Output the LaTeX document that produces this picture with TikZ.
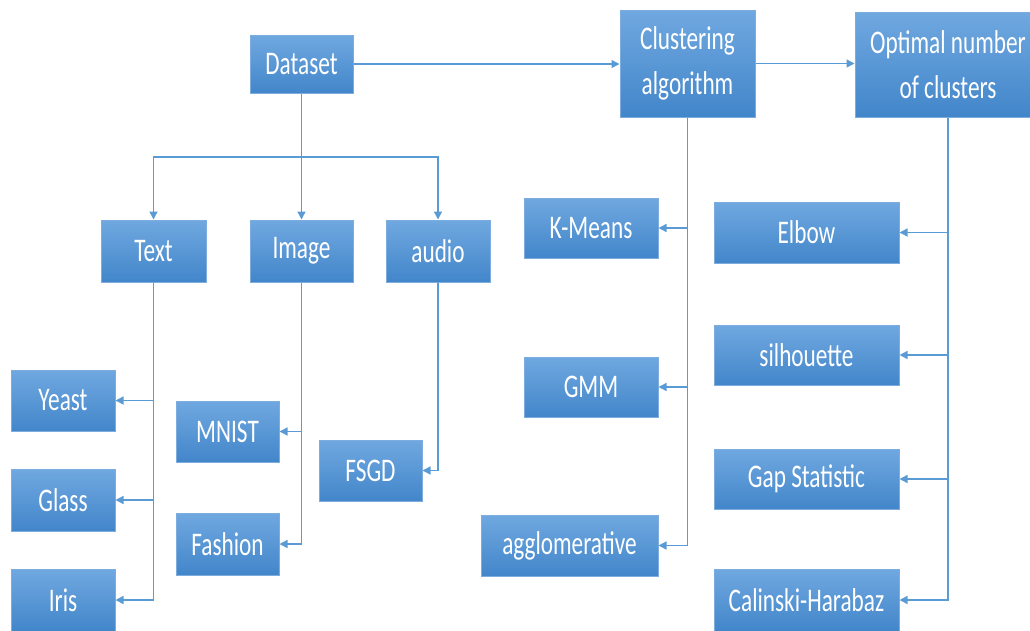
\documentclass[tikz,border=0pt]{standalone}
\usepackage{fontspec}
\setmainfont{Carlito}[FakeStretch=0.705]
\usetikzlibrary{arrows.meta}
\definecolor{boxtop}{RGB}{112,168,224}
\definecolor{boxbot}{RGB}{66,134,202}
\definecolor{boxedge}{RGB}{125,172,222}
\definecolor{linecol}{RGB}{91,155,213}
\tikzset{
  box/.style={rectangle, draw=boxedge, line width=1pt, top color=boxtop, bottom color=boxbot,
    text=white, inner sep=0pt, align=center, font=\fontsize{33}{45}\selectfont},
  arr/.style={draw=linecol, line width=1.4pt, -{Triangle[width=8pt,length=8pt]}},
  ln/.style={draw=linecol, line width=1.4pt}
}
\newcommand{\bx}[6]{\node[box, minimum width=#4, minimum height=#5] (#1) at (#2,#3) {#6};}
\begin{document}
\begin{tikzpicture}[x=1pt,y=-1pt]
\useasboundingbox (0,0) rectangle (1030,630);
\bx{ds}{301.5}{64}{103}{58}{Dataset}
\bx{ca}{687.5}{63.5}{135}{107}{Clustering\\algorithm}
\bx{on}{948}{64.5}{186}{105}{Optimal number\\of clusters}
\bx{tx}{153.5}{251}{105}{62}{Text}
\bx{im}{301.5}{251}{103}{62}{Image}
\bx{au}{438}{251}{104}{62}{audio}
\bx{ye}{63}{400.5}{104}{61}{Yeast}
\bx{gl}{63}{500}{104}{62}{Glass}
\bx{ir}{63}{600}{104}{62}{Iris}
\bx{mn}{227.5}{431.5}{103}{61}{MNIST}
\bx{fa}{227.5}{544}{103}{62}{Fashion}
\bx{fs}{370.5}{470.5}{103}{61}{FSGD}
\bx{km}{591}{228}{134}{60}{K-Means}
\bx{gm}{591}{387}{134}{60}{GMM}
\bx{ag}{569.5}{545.5}{177}{61}{agglomerative}
\bx{el}{806.5}{232.5}{185}{61}{Elbow}
\bx{si}{806.5}{355}{185}{60}{silhouette}
\bx{gs}{806.5}{479}{185}{60}{Gap Statistic}
\bx{ch}{806.5}{600}{185}{62}{Calinski-Harabaz}
\coordinate (j) at (301.5,157);
% top row
\draw[arr] (ds.east) -- (ds.east -| ca.west);
\draw[arr] (ca.east) -- (ca.east -| on.west);
% dataset tree
\draw[arr] (ds.south) -- (im.north);
\draw[arr] (j) -| (tx.north);
\draw[arr] (j) -| (au.north);
% text tree
\draw[arr] (tx.south) |- (ir.east);
\draw[arr] (tx.south |- ye.east) -- (ye.east);
\draw[arr] (tx.south |- gl.east) -- (gl.east);
% image tree
\draw[arr] (im.south) |- (fa.east);
\draw[arr] (im.south |- mn.east) -- (mn.east);
% audio tree
\draw[arr] (au.south) |- (fs.east);
% clustering tree
\draw[arr] (ca.south) |- (ag.east);
\draw[arr] (ca.south |- km.east) -- (km.east);
\draw[arr] (ca.south |- gm.east) -- (gm.east);
% optimal tree
\draw[arr] (on.south) |- (ch.east);
\draw[arr] (on.south |- el.east) -- (el.east);
\draw[arr] (on.south |- si.east) -- (si.east);
\draw[arr] (on.south |- gs.east) -- (gs.east);
\end{tikzpicture}
\end{document}
